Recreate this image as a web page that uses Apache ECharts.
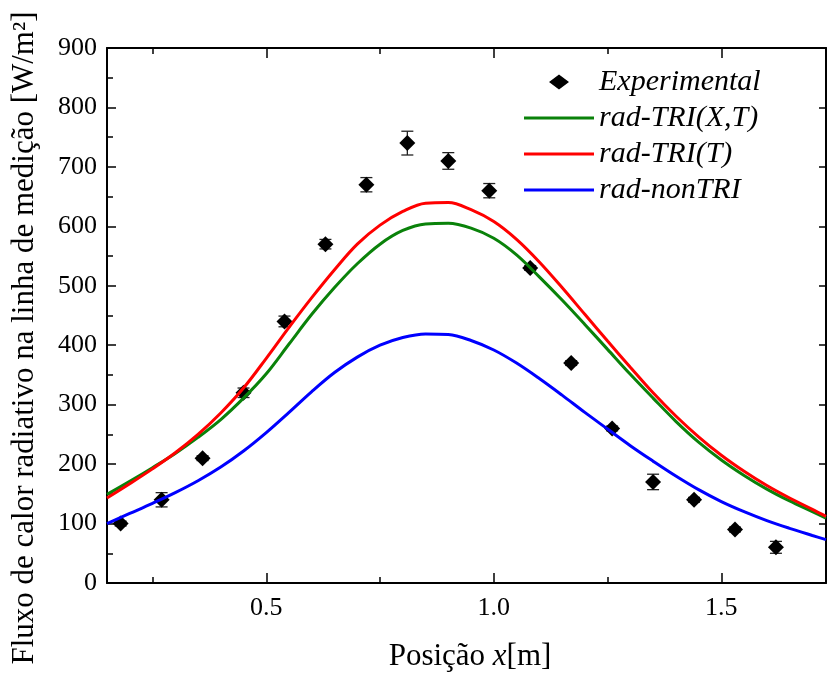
<!DOCTYPE html>
<html>
<head>
<meta charset="utf-8">
<script src="https://cdn.jsdelivr.net/npm/echarts@6/dist/echarts.min.js"></script>
<style>
  html, body { margin: 0; padding: 0; background: #ffffff; }
  #chart { width: 828px; height: 675px; }
</style>
</head>
<body>
<div id="chart"></div>
<script>
// Positions along the measuring line [m] where the model curves are sampled
const positions = [0.15, 0.20, 0.25, 0.30, 0.35, 0.40, 0.45, 0.50, 0.55, 0.60, 0.65, 0.70,
  0.75, 0.80, 0.85, 0.90, 0.95, 1.00, 1.05, 1.10, 1.15, 1.20, 1.25, 1.30, 1.35, 1.40,
  1.45, 1.50, 1.55, 1.60, 1.65, 1.70, 1.73];

// Radiative heat flux [W/m²] for each model
const radTriXT = [149, 171, 194, 218, 245, 275, 311, 352, 402, 452, 497, 537,
  570, 593, 604, 605, 597, 580, 552, 515, 476, 435, 393, 351, 311, 272,
  237, 207, 181, 158, 138, 120, 109];
const radTriT = [143, 167, 192, 219, 250, 286, 328, 378, 430, 480, 527, 570,
  602, 625, 639, 640, 628, 608, 578, 540, 497, 452, 407, 363, 320, 281,
  246, 215, 188, 164, 143, 124, 112];
const radNonTri = [100, 117, 134, 152, 172, 195, 222, 253, 287, 322, 354, 380,
  400, 413, 419, 418, 408, 392, 370, 344, 316, 287, 259, 231, 205, 180,
  157, 137, 120, 105, 92, 80, 73];

// Measurements with their uncertainty
const expPositions = [0.18, 0.27, 0.36, 0.45, 0.54, 0.63, 0.72, 0.81, 0.90, 0.99,
  1.08, 1.17, 1.26, 1.35, 1.44, 1.53, 1.62];
const expFlux = [100, 140, 210, 320, 440, 570, 670, 740, 710, 660,
  530, 370, 260, 170, 140, 90, 60];
const expError = [4, 12, 4, 8, 9, 8, 12, 20, 14, 12,
  4, 4, 4, 13, 4, 4, 10];

// Axis ticks and labels
const xMajorTicks = [0.5, 1.0, 1.5];
const xMinorTicks = [0.25, 0.75, 1.25];
const yTicks = [0, 100, 200, 300, 400, 500, 600, 700, 800, 900];

const seriesNames = ['Experimental', 'rad-TRI(X,T)', 'rad-TRI(T)', 'rad-nonTRI'];

const FONT = '"Liberation Serif", "Times New Roman", serif';
const X_MIN = 0.15, X_MAX = 1.73;
const Y_MIN = yTicks[0], Y_MAX = yTicks[yTicks.length - 1];

const pairs = (xs, ys) => xs.map((x, i) => [x, ys[i]]);

function xAxisDef(position, ticks, tickLen, showLine, showLabels) {
  return {
    type: 'value', gridIndex: 0, position: position, min: X_MIN, max: X_MAX,
    axisLine: { show: showLine, onZero: false, lineStyle: { color: '#000', width: 2 } },
    axisTick: { show: true, inside: true, length: tickLen, customValues: ticks,
      lineStyle: { color: '#000', width: 1.5 } },
    axisLabel: showLabels ? {
      show: true, customValues: ticks, margin: 12,
      formatter: v => Number(v).toFixed(1),
      fontFamily: FONT, fontSize: 26, color: '#000'
    } : { show: false },
    splitLine: { show: false }
  };
}

// Legend icons drawn inside a 70x15 box: a thick line for the models,
// a centred diamond for the measurements
const lineIcon = 'path://M0,6H70V9H0Z';
const diamondIcon = 'path://M0,0L0.01,0L0,0.01Z M70,15L69.99,15L70,14.99Z M25,7.5L35,0L45,7.5L35,15Z';

const chart = echarts.init(document.getElementById('chart'), null, { renderer: 'canvas' });

const option = {
  animation: false,
  backgroundColor: '#ffffff',
  grid: { left: 107, right: 2, top: 48, bottom: 92, containLabel: false },
  legend: {
    data: [
      { name: seriesNames[0], icon: diamondIcon },
      { name: seriesNames[1], icon: lineIcon },
      { name: seriesNames[2], icon: lineIcon },
      { name: seriesNames[3], icon: lineIcon }
    ],
    orient: 'vertical',
    left: 519, top: 62,
    itemWidth: 70, itemHeight: 15, itemGap: 6,
    textStyle: { fontFamily: FONT, fontStyle: 'italic', fontSize: 30, color: '#000', lineHeight: 30 }
  },
  xAxis: [
    xAxisDef('bottom', xMajorTicks, 10, true, true),
    xAxisDef('bottom', xMinorTicks, 6, false, false),
    xAxisDef('top', xMajorTicks, 10, true, false),
    xAxisDef('top', xMinorTicks, 6, false, false)
  ],
  yAxis: [
    {
      type: 'value', position: 'left', min: Y_MIN, max: Y_MAX, interval: 100,
      axisLine: { show: true, onZero: false, lineStyle: { color: '#000', width: 2 } },
      axisTick: { show: true, inside: true, length: 9, lineStyle: { color: '#000', width: 1.5 } },
      minorTick: { show: true, splitNumber: 2, length: 6, lineStyle: { color: '#000', width: 1.5 } },
      axisLabel: { margin: 10, fontFamily: FONT, fontSize: 26, color: '#000' },
      splitLine: { show: false }, minorSplitLine: { show: false }
    },
    {
      type: 'value', position: 'right', min: Y_MIN, max: Y_MAX, interval: 100,
      axisLine: { show: true, onZero: false, lineStyle: { color: '#000', width: 2 } },
      axisTick: { show: true, inside: true, length: 7, lineStyle: { color: '#000', width: 1.5 } },
      axisLabel: { show: false },
      splitLine: { show: false }
    }
  ],
  graphic: [
    {
      type: 'text', x: 25, y: 338, rotation: Math.PI / 2,
      style: {
        text: 'Fluxo de calor radiativo na linha de medição [W/m²]',
        font: '31px ' + FONT, fill: '#000', align: 'center', verticalAlign: 'middle'
      }
    },
    {
      type: 'text', x: 470, y: 657,
      style: {
        text: '{a|Posição }{b|x}{a|[m]}',
        align: 'center', verticalAlign: 'middle',
        rich: {
          a: { fontFamily: FONT, fontSize: 31, fill: '#000', color: '#000' },
          b: { fontFamily: FONT, fontSize: 31, fontStyle: 'italic', fill: '#000', color: '#000' }
        }
      }
    }
  ],
  series: [
    {
      // error bars for the measurements
      type: 'custom', xAxisIndex: 0, yAxisIndex: 0, z: 2,
      data: expPositions.map((x, i) => [x, expFlux[i], expError[i]]),
      renderItem: function (params, api) {
        const x = api.value(0), y = api.value(1), e = api.value(2);
        const top = api.coord([x, y + e]);
        const bot = api.coord([x, y - e]);
        const cap = 6;
        const st = { stroke: '#222', lineWidth: 1.3 };
        return {
          type: 'group',
          children: [
            { type: 'line', shape: { x1: top[0], y1: top[1], x2: bot[0], y2: bot[1] }, style: st },
            { type: 'line', shape: { x1: top[0] - cap, y1: top[1], x2: top[0] + cap, y2: top[1] }, style: st },
            { type: 'line', shape: { x1: bot[0] - cap, y1: bot[1], x2: bot[0] + cap, y2: bot[1] }, style: st }
          ]
        };
      }
    },
    {
      name: seriesNames[0], type: 'scatter', xAxisIndex: 0, yAxisIndex: 0, z: 3,
      symbol: 'diamond', symbolSize: 16,
      itemStyle: { color: '#000', opacity: 1 },
      data: pairs(expPositions, expFlux)
    },
    {
      name: seriesNames[1], type: 'line', xAxisIndex: 0, yAxisIndex: 0, z: 4,
      smooth: 0.35, showSymbol: false, symbol: 'none',
      lineStyle: { color: '#0a820a', width: 3 }, itemStyle: { color: '#0a820a' },
      data: pairs(positions, radTriXT)
    },
    {
      name: seriesNames[2], type: 'line', xAxisIndex: 0, yAxisIndex: 0, z: 5,
      smooth: 0.35, showSymbol: false, symbol: 'none',
      lineStyle: { color: '#ff0000', width: 3 }, itemStyle: { color: '#ff0000' },
      data: pairs(positions, radTriT)
    },
    {
      name: seriesNames[3], type: 'line', xAxisIndex: 0, yAxisIndex: 0, z: 6,
      smooth: 0.35, showSymbol: false, symbol: 'none',
      lineStyle: { color: '#0000ff', width: 3 }, itemStyle: { color: '#0000ff' },
      data: pairs(positions, radNonTri)
    }
  ]
};

chart.setOption(option);
</script>
</body>
</html>
